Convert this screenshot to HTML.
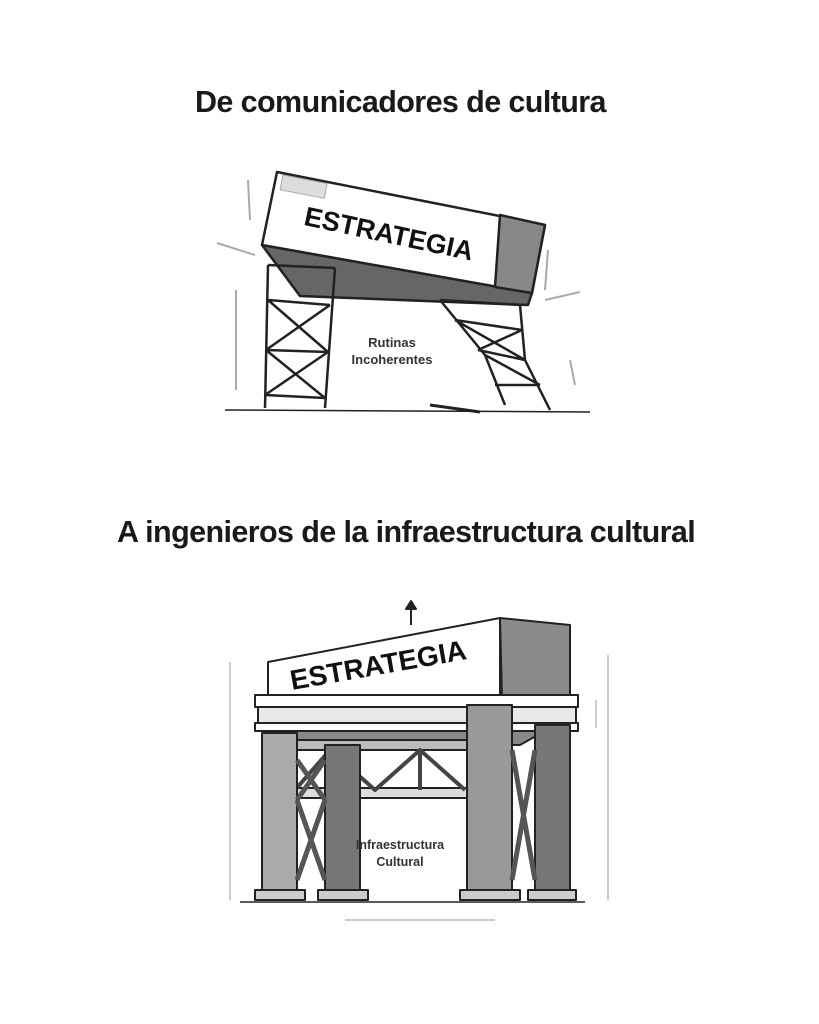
<!DOCTYPE html>
<html><head><meta charset="utf-8"><style>
html,body{margin:0;padding:0;background:#fff;}
body{width:819px;height:1024px;position:relative;overflow:hidden;font-family:"Liberation Sans",sans-serif;}
.t{position:absolute;font-weight:bold;color:#1a1a1a;white-space:nowrap;letter-spacing:-0.6px;}
</style></head><body>
<div class="t" style="left:195px;top:85px;font-size:30.5px;">De comunicadores de cultura</div>
<div class="t" style="left:117px;top:515px;font-size:30.5px;">A ingenieros de la infraestructura cultural</div>
<svg width="819" height="1024" style="position:absolute;left:0;top:0" xmlns="http://www.w3.org/2000/svg">
<g stroke="#222" fill="none" stroke-width="2.5" stroke-linejoin="round">
<polygon points="262,245 300,296 528,305 532,293" fill="#666"/>
<polygon points="262,245 532,293 545,225 277,172" fill="#fff"/>
<polygon points="500,215 545,225 532,293 495,287" fill="#888"/>
<rect x="283" y="175" width="45" height="15" fill="#ddd" stroke="#aaa" stroke-width="1" transform="rotate(11 283 175)"/>
<path d="M268,265 L265,408 M335,268 L325,408 M268,265 L335,268 M268,300 L330,305 M266,350 L328,352 M265,395 L325,398 M268,300 L328,352 M330,305 L266,350 M266,350 L325,398 M328,352 L265,395"/>
<path d="M440,300 L485,355 L505,405 M520,305 L525,360 L550,410 M440,300 L520,305 M455,320 L522,330 M478,350 L525,360 M495,385 L540,385 M455,320 L525,360 M522,330 L478,350 M485,355 L540,385"/>
<path d="M225,410 L590,412" stroke-width="1.5"/>
<path d="M430,405 L480,412" stroke-width="3"/>
</g>
<g stroke="#aaa" stroke-width="2" fill="none">
<path d="M248,180 L250,220 M236,290 L236,390 M548,250 L545,290 M570,360 L575,385 M217,243 L255,255 M545,300 L580,292"/>
</g>
<text x="305" y="225" font-family="Liberation Sans,sans-serif" font-weight="bold" font-size="27" fill="#111" transform="rotate(12 305 215)">ESTRATEGIA</text>
<text x="392" y="347" text-anchor="middle" font-family="Liberation Sans,sans-serif" font-weight="bold" font-size="13" fill="#333">Rutinas</text>
<text x="392" y="364" text-anchor="middle" font-family="Liberation Sans,sans-serif" font-weight="bold" font-size="13" fill="#333">Incoherentes</text>

<g stroke="#222" fill="none" stroke-width="2" stroke-linejoin="round">
<path d="M411,625 L411,607"/>
<polygon points="406,609 411,601 416,609" fill="#222"/>
<polygon points="500,618 570,625 570,695 502,698" fill="#8a8a8a"/>
<polygon points="268,662 500,618 500,698 268,700" fill="#fff"/>
<rect x="255" y="695" width="323" height="12" fill="#fff"/>
<rect x="258" y="707" width="318" height="16" fill="#e8e8e8"/>
<rect x="255" y="723" width="323" height="8" fill="#fff"/>
<polygon points="290,731 545,731 520,745 300,745" fill="#888"/>
<rect x="290" y="740" width="190" height="10" fill="#bbb"/>
<rect x="290" y="788" width="190" height="10" fill="#ddd"/>
<path d="M295,790 L330,750 L375,790 L420,750 L465,790 M330,750 L330,790 M420,750 L420,790" stroke-width="4" stroke="#444"/>
<rect x="262" y="733" width="35" height="165" fill="#aaa"/>
<rect x="325" y="745" width="35" height="153" fill="#777"/>
<rect x="467" y="705" width="45" height="193" fill="#999"/>
<rect x="535" y="725" width="35" height="173" fill="#777"/>
<path d="M297,800 L325,880 M325,800 L297,880 M512,750 L535,880 M535,750 L512,880 M297,760 L325,800 M325,760 L297,800" stroke-width="5" stroke="#555"/>
<rect x="255" y="890" width="50" height="10" fill="#ccc"/>
<rect x="318" y="890" width="50" height="10" fill="#ccc"/>
<rect x="460" y="890" width="60" height="10" fill="#ccc"/>
<rect x="528" y="890" width="48" height="10" fill="#ccc"/>
<path d="M240,902 L585,902" stroke-width="1.5"/>
</g>
<g stroke="#999" stroke-width="1" fill="none">
<path d="M230,662 L230,900 M608,655 L608,900 M596,700 L596,728 M345,920 L495,920"/>
</g>
<text x="292" y="690" font-family="Liberation Sans,sans-serif" font-weight="bold" font-size="28" fill="#111" transform="rotate(-10 292 690)">ESTRATEGIA</text>
<text x="400" y="849" text-anchor="middle" font-family="Liberation Sans,sans-serif" font-weight="bold" font-size="12.5" fill="#333">Infraestructura</text>
<text x="400" y="866" text-anchor="middle" font-family="Liberation Sans,sans-serif" font-weight="bold" font-size="12.5" fill="#333">Cultural</text>
</svg>
</body></html>
